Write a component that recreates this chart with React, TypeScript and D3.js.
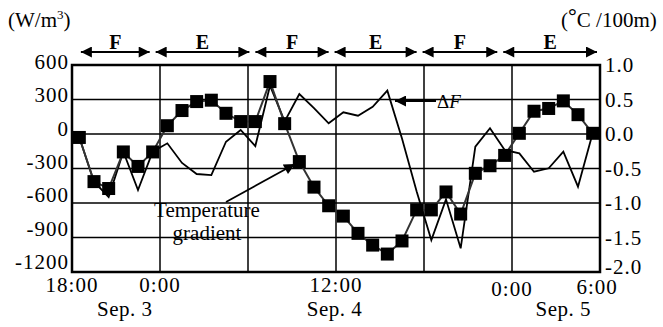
import React, { useEffect, useRef } from 'react';
import * as d3 from 'd3';

// hours after 18:00 Sep. 3 for each hourly sample
const hours = d3.range(0.5, 36, 1);

// temperature gradient (°C/100m), right axis
const tempGradient = [
  -0.05, -0.69, -0.79, -0.26, -0.47, -0.26, 0.12, 0.34, 0.47, 0.49, 0.3, 0.18,
  0.18, 0.76, 0.15, -0.4, -0.77, -1.04, -1.19, -1.44, -1.61, -1.74, -1.55, -1.1,
  -1.1, -0.84, -1.16, -0.57, -0.46, -0.31, 0.01, 0.33, 0.37, 0.48, 0.28, 0.01,
];

// ΔF (W/m3), left axis
const deltaF = [
  -30, -415, -548, -154, -487, -154, -81, -252, -348, -357, -67, 35,
  -105, 420, 110, 348, 225, 93, 189, 159, 237, 377, -40, -500,
  -922, -568, -994, -110, 50, -139, -168, -328, -298, -154, -458, 6,
];

const leftTicks = [600, 300, 0, -300, -600, -900, -1200];
const rightTicks = [1.0, 0.5, 0.0, -0.5, -1.0, -1.5, -2.0];
const gridHours = [0, 6, 12, 18, 24, 30, 36];
const timeLabels = [
  { h: 0, text: '18:00', dy: 0 },
  { h: 6, text: '0:00', dy: 0 },
  { h: 18, text: '12:00', dy: 0 },
  { h: 30, text: '0:00', dy: 4 },
  { h: 35.8, text: '6:00', dy: 2 },
];
const dateLabels = [
  { h: 3.6, text: 'Sep. 3' },
  { h: 17.9, text: 'Sep. 4' },
  { h: 33.5, text: 'Sep. 5' },
];

// stability periods along the top
const periodNames = ['F', 'E', 'F', 'E', 'F', 'E'];
const periodBounds = [0.4, 5.5, 12.3, 17.7, 23.7, 29.2, 36];

const W = 663;
const H = 327;
const FONT = '"Liberation Serif", "Times New Roman", serif';

export default function App() {
  const svgRef = useRef<SVGSVGElement>(null);

  useEffect(() => {
    if (!svgRef.current) return;
    const svg = d3.select(svgRef.current);
    svg.selectAll('*').remove();

    const left = 72, right = 600, top = 65, bottom = 272;
    const x = d3.scaleLinear().domain([0, 36]).range([left, right]);
    const yL = d3.scaleLinear().domain([-1200, 600]).range([bottom, top]);
    const yR = d3.scaleLinear().domain([-2, 1]).range([bottom, top]);

    const defs = svg.append('defs');
    defs.append('marker')
      .attr('id', 'head')
      .attr('viewBox', '0 0 10 10')
      .attr('refX', 10).attr('refY', 5)
      .attr('markerWidth', 16).attr('markerHeight', 11)
      .attr('markerUnits', 'userSpaceOnUse')
      .attr('orient', 'auto-start-reverse')
      .append('path')
      .attr('d', 'M0,0L10,5L0,10Z')
      .attr('fill', '#000');

    // grid
    svg.append('g')
      .selectAll('line')
      .data(leftTicks.slice(1, -1))
      .enter()
      .append('line')
      .attr('x1', left).attr('x2', right)
      .attr('y1', d => yL(d)).attr('y2', d => yL(d))
      .attr('stroke', '#000').attr('stroke-width', 1.5);

    svg.append('g')
      .selectAll('line')
      .data(gridHours.slice(1, -1))
      .enter()
      .append('line')
      .attr('x1', d => x(d)).attr('x2', d => x(d))
      .attr('y1', top).attr('y2', bottom)
      .attr('stroke', '#000').attr('stroke-width', 1.5);

    svg.append('rect')
      .attr('x', left).attr('y', top)
      .attr('width', right - left).attr('height', bottom - top)
      .attr('fill', 'none').attr('stroke', '#000').attr('stroke-width', 2.5);

    // ΔF line
    const lineF = d3.line<number>()
      .x((_, i) => x(hours[i]))
      .y(d => yL(d));
    svg.append('path')
      .datum(deltaF)
      .attr('d', lineF)
      .attr('fill', 'none')
      .attr('stroke', '#000')
      .attr('stroke-width', 1.8);

    // temperature gradient line + squares
    const lineT = d3.line<number>()
      .x((_, i) => x(hours[i]))
      .y(d => yR(d));
    svg.append('path')
      .datum(tempGradient)
      .attr('d', lineT)
      .attr('fill', 'none')
      .attr('stroke', '#333')
      .attr('stroke-width', 2);

    const sq = 13;
    svg.append('g')
      .selectAll('rect')
      .data(tempGradient)
      .enter()
      .append('rect')
      .attr('x', (_, i) => x(hours[i]) - sq / 2)
      .attr('y', d => yR(d) - sq / 2)
      .attr('width', sq).attr('height', sq)
      .attr('fill', '#000');

    // text helpers
    const txt = (size: number) => (g: any) =>
      g.style('font-family', FONT).style('font-size', `${size}px`).attr('fill', '#000');
    const fs = 21;
    const mid = fs * 0.34; // baseline shift to centre digits on a y

    // left labels drift a little above their grid lines, as in the original
    svg.append('g').selectAll('text')
      .data(leftTicks).enter().append('text')
      .attr('x', left - 3).attr('y', (d, i) => yL(d) - 3 - i * 1.2 + mid)
      .attr('text-anchor', 'end')
      .style('letter-spacing', '1px')
      .text(d => String(d))
      .call(txt(fs));

    svg.append('g').selectAll('text')
      .data(rightTicks).enter().append('text')
      .attr('x', right + 5).attr('y', d => yR(d) + mid - (d === -2 ? 5 : 0))
      .attr('text-anchor', 'start')
      .style('letter-spacing', '1px')
      .text(d => d.toFixed(1))
      .call(txt(fs));

    svg.append('g').selectAll('text')
      .data(timeLabels).enter().append('text')
      .attr('x', d => x(d.h)).attr('y', d => 292 + d.dy)
      .attr('text-anchor', 'middle')
      .style('letter-spacing', '1px')
      .text(d => d.text)
      .call(txt(fs));

    svg.append('g').selectAll('text')
      .data(dateLabels).enter().append('text')
      .attr('x', d => x(d.h)).attr('y', 316)
      .attr('text-anchor', 'middle')
      .style('letter-spacing', '0.5px')
      .text(d => d.text)
      .call(txt(fs));

    // units
    const u1 = svg.append('text').attr('x', 8).attr('y', 27).call(txt(fs));
    u1.append('tspan').text('(W/m');
    u1.append('tspan').attr('dy', -8).style('font-size', '13px').text('3');
    u1.append('tspan').attr('dy', 8).text(')');

    const u2 = svg.append('text').attr('x', 561).attr('y', 27).call(txt(fs));
    u2.append('tspan').text('(');
    u2.append('tspan').attr('dy', -4).style('font-weight', 'bold').style('font-size', '22px').text('°');
    u2.append('tspan').attr('dy', 4).text('C /100m)');

    // F / E periods
    const pg = svg.append('g');
    periodNames.forEach((name, i) => {
      const x0 = x(periodBounds[i]) + 3;
      const x1 = x(periodBounds[i + 1]) - 3;
      pg.append('line')
        .attr('x1', x0).attr('x2', x1)
        .attr('y1', 52).attr('y2', 52)
        .attr('stroke', '#000').attr('stroke-width', 2)
        .attr('marker-start', 'url(#head)')
        .attr('marker-end', 'url(#head)');
      pg.append('text')
        .attr('x', (x0 + x1) / 2).attr('y', 49)
        .attr('text-anchor', 'middle')
        .style('font-weight', 'bold')
        .text(name)
        .call(txt(20));
    });

    // annotations
    svg.append('line')
      .attr('x1', 436).attr('y1', 101)
      .attr('x2', 395).attr('y2', 101)
      .attr('stroke', '#000').attr('stroke-width', 1.8)
      .attr('marker-end', 'url(#head)');
    const tf = svg.append('text').attr('x', 437).attr('y', 108).call(txt(19));
    tf.append('tspan').text('Δ');
    tf.append('tspan').style('font-style', 'italic').text('F');

    svg.append('line')
      .attr('x1', 226).attr('y1', 202)
      .attr('x2', 295).attr('y2', 164)
      .attr('stroke', '#000').attr('stroke-width', 1.8)
      .attr('marker-end', 'url(#head)');
    svg.append('text')
      .attr('x', 207).attr('y', 217)
      .attr('text-anchor', 'middle')
      .text('Temperature')
      .call(txt(21));
    svg.append('text')
      .attr('x', 207).attr('y', 240)
      .attr('text-anchor', 'middle')
      .text('gradient')
      .call(txt(21));
  }, []);

  return (
    <svg
      ref={svgRef}
      width={W}
      height={H}
      style={{ position: 'absolute', left: 0, top: 0, background: '#fff' }}
    />
  );
}
